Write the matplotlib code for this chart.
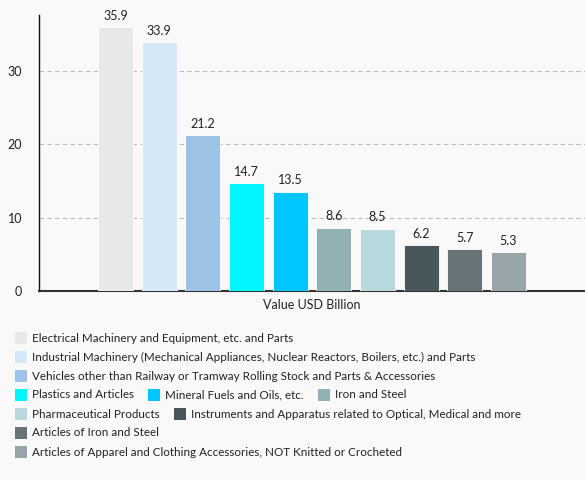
import numpy as np
import matplotlib
matplotlib.use("Agg")
import matplotlib.pyplot as plt
from matplotlib.patches import Rectangle

plt.rcParams['font.family'] = ['Lato', 'DejaVu Sans']

# Data
categories = [
    "Electrical Machinery and Equipment, etc. and Parts",
    "Industrial Machinery (Mechanical Appliances, Nuclear Reactors, Boilers, etc.) and Parts",
    "Vehicles other than Railway or Tramway Rolling Stock and Parts & Accessories",
    "Plastics and Articles",
    "Mineral Fuels and Oils, etc.",
    "Iron and Steel",
    "Pharmaceutical Products",
    "Instruments and Apparatus related to Optical, Medical and more",
    "Articles of Iron and Steel",
    "Articles of Apparel and Clothing Accessories, NOT Knitted or Crocheted",
]
values = [35.9, 33.9, 21.2, 14.7, 13.5, 8.6, 8.5, 6.2, 5.7, 5.3]
colors = ["#e8e8e8", "#d6e7f8", "#9cc3e6", "#00f5ff", "#00c5ff",
          "#93b0b5", "#b8d8de", "#48575c", "#677478", "#98a5a8"]
x_label = "Value USD Billion"
yticks = [0, 10, 20, 30]
# how the legend wraps in the original
legend_rows = [[0], [1], [2], [3, 4, 5], [6, 7], [8], [9]]

BG = "#f9f9f9"
TXT = "#222222"

fig = plt.figure(figsize=(5.85, 4.8), dpi=100, facecolor=BG)
W, H = 585, 480
ax = fig.add_axes([39 / W, 1 - 291 / H, 1 - 39 / W, (291 - 15) / H])
ax.set_facecolor(BG)

n = len(values)
slot = 0.8 / n
centers = -0.4 + slot * (np.arange(n) + 0.5)
bars = ax.bar(centers, values, width=slot * 0.8, color=colors,
              edgecolor="#ffffff", linewidth=0.6, zorder=3)
for c, v in zip(centers, values):
    ax.annotate(f"{v}", (c, v), xytext=(0, 4), textcoords="offset points",
                ha="center", va="bottom", fontsize=9, color=TXT)

ax.set_xlim(-0.5, 0.5)
ax.set_ylim(0, 37.6)
ax.set_yticks(yticks)
ax.set_xticks([])
ax.tick_params(axis="y", length=0, pad=12, labelsize=9, labelcolor=TXT)
for y in yticks[1:]:
    ax.axhline(y, color="#bbbbbb", linestyle=(0, (4, 3)), linewidth=0.8, zorder=1)
for s in ["top", "right"]:
    ax.spines[s].set_visible(False)
ax.spines["left"].set_color("#111111")
ax.spines["left"].set_linewidth(1.0)
ax.spines["bottom"].set_color("#333333")
ax.spines["bottom"].set_linewidth(1.5)
ax.set_xlabel(x_label, fontsize=9, color=TXT, labelpad=6)

# legend, laid out row by row
renderer = fig.canvas.get_renderer()
box = 12
fs_leg = 8.4
x0 = 15
row_h = 19
for r, row in enumerate(legend_rows):
    row_y = 338 + r * row_h
    x = x0
    for i in row:
        fig.patches.append(Rectangle((x / W, 1 - (row_y + box / 2) / H), box / W, box / H,
                                     transform=fig.transFigure, facecolor=colors[i],
                                     edgecolor="none"))
        t = fig.text((x + box + 5) / W, 1 - row_y / H, categories[i], fontsize=fs_leg,
                     color=TXT, va="center", ha="left")
        tw = t.get_window_extent(renderer).width
        x += box + 5 + tw + 14

fig.savefig("out.png", dpi=100, facecolor=BG)
